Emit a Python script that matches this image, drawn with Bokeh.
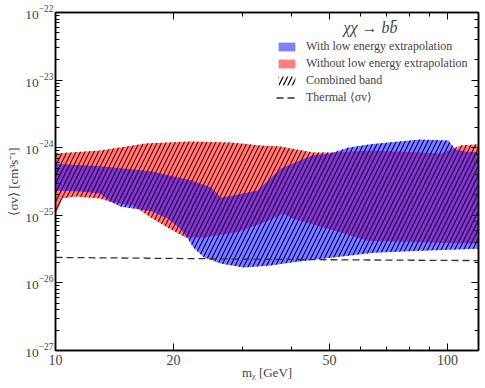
import numpy as np
from bokeh.plotting import figure
from bokeh.models import (FixedTicker, PrintfTickFormatter, LogAxis, Legend,
                          LegendItem, Label, LogTicker, CustomJSTickFormatter)
from bokeh.embed import file_html
from bokeh.resources import INLINE

# ---- data ----
red_up_m = [10, 13.0, 17.0, 22.1, 28.0, 33.3, 37.5, 45.5, 51.8, 63.6, 85.3, 96.0, 103.6, 107.9, 120]
red_up_v = [8.2e-25, 9.1e-25, 1.15e-24, 1.24e-24, 1.19e-24, 1.08e-24, 1.04e-24, 8.5e-25, 8.5e-25,
            9.1e-25, 8.5e-25, 8.2e-25, 9.7e-25, 1.08e-24, 1.12e-24]
red_lo_m = [10, 10.4, 11.25, 13.0, 13.8, 14.65, 15.8, 17.5, 19.3, 21.5, 23.9, 29.1, 33.9, 38.2,
            40.2, 53.3, 62.5, 85.3, 120]
red_lo_v = [9.9e-26, 1.77e-25, 1.9e-25, 1.77e-25, 1.58e-25, 1.5e-25, 1.4e-25, 9.3e-26, 6.6e-26,
            4.7e-26, 4.7e-26, 5.6e-26, 7.8e-26, 1.06e-25, 9.0e-26, 5.6e-26, 4.2e-26, 4.0e-26, 3.8e-26]

blue_up_m = [10, 13.0, 17.5, 22.1, 24.9, 26.4, 28.5, 32.8, 37.5, 42.2, 45.5, 50.3, 55.6, 63.6,
             85.3, 100.6, 104.8, 111.2, 120]
blue_up_v = [5.8e-25, 5.3e-25, 4.5e-25, 3.3e-25, 2.6e-25, 1.83e-25, 1.97e-25, 2.33e-25, 4.9e-25,
             6.5e-25, 7.7e-25, 8.2e-25, 1.0e-24, 1.12e-24, 1.32e-24, 1.28e-24, 9.4e-25, 8.8e-25, 8.5e-25]
blue_lo_m = [10, 11.6, 13.0, 13.8, 14.65, 15.8, 17.5, 19.3, 20.8, 21.7, 22.5, 23.9, 26.4, 30.2,
             35.4, 39.8, 44.0, 64.8, 85.3, 120]
blue_lo_v = [2.33e-25, 2.25e-25, 2.1e-25, 1.6e-25, 1.35e-25, 1.26e-25, 1.16e-25, 9.0e-26, 6.4e-26,
             4.6e-26, 3.3e-26, 2.4e-26, 1.94e-26, 1.69e-26, 1.81e-26, 2.0e-26, 2.14e-26, 2.8e-26,
             3.0e-26, 3.2e-26]

thermal_m = [10, 20, 50, 100, 120]
thermal_v = [2.38e-26, 2.3e-26, 2.2e-26, 2.15e-26, 2.14e-26]

x_ticks = [10, 20, 50, 100]
x_minor = [30, 40, 60, 70, 80, 90]

legend_labels = ["With low energy extrapolation", "Without low energy extrapolation",
                 "Combined band", "Thermal \u27e8\u03c3v\u27e9"]
legend_title = "\u03c7\u03c7 \u2192 bb\u0304"

# ---- build band outlines ----
red_x = list(red_up_m) + list(red_lo_m[::-1])
red_y = list(red_up_v) + list(red_lo_v[::-1])
blue_x = list(blue_up_m) + list(blue_lo_m[::-1])
blue_y = list(blue_up_v) + list(blue_lo_v[::-1])

SERIF = "Liberation Serif"

p = figure(width=485, height=385, x_axis_type="log", y_axis_type="log",
           x_range=(10, 120), y_range=(1e-27, 1e-22),
           output_backend="svg", toolbar_location=None,
           min_border_left=55, min_border_right=7, min_border_top=12, min_border_bottom=35)
p.grid.visible = False
p.outline_line_color = "black"
p.outline_line_width = 1.5
p.background_fill_color = "white"

hatch_kw = dict(fill_alpha=0, line_color=None, hatch_pattern="/", hatch_color="black",
                hatch_alpha=1.0, hatch_scale=9, hatch_weight=1.2)
hatch_r = p.patch(red_x, red_y, **hatch_kw)
hatch_b = p.patch(blue_x, blue_y, **hatch_kw)
red = p.patch(red_x, red_y, fill_color="#ff0000", fill_alpha=0.5, line_color=None)
blue = p.patch(blue_x, blue_y, fill_color="#0000ff", fill_alpha=0.5, line_color=None)
therm = p.line(thermal_m, thermal_v, line_color="#333333", line_width=1.3, line_dash="7 4")

# axes
for ax in (p.xaxis[0], p.yaxis[0]):
    ax.major_label_text_font = SERIF
    ax.major_label_text_font_size = "14px"
    ax.axis_label_text_font = SERIF
    ax.axis_label_text_font_style = "normal"
    ax.axis_label_text_font_size = "13px"
    ax.major_tick_in = 7
    ax.major_tick_out = 0
    ax.minor_tick_in = 4
    ax.minor_tick_out = 0
    ax.axis_line_width = 1.5
    ax.major_label_standoff = 4

p.yaxis.major_label_text_font_size = "13.5px"
p.yaxis.major_label_standoff = 2
p.xaxis.ticker = FixedTicker(ticks=x_ticks, minor_ticks=x_minor)
p.xaxis.formatter = PrintfTickFormatter(format="%d")
p.xaxis.axis_label = "m\u1d6a [GeV]"
p.xaxis.axis_label_standoff = -3
p.yaxis.axis_label = "\u27e8\u03c3v\u27e9 [cm\u00b3s\u207b\u00b9]"
p.yaxis.axis_label_standoff = 1

blank = CustomJSTickFormatter(code="return ''")
top = LogAxis(ticker=FixedTicker(ticks=x_ticks, minor_ticks=x_minor), formatter=blank,
              major_tick_in=7, major_tick_out=0, minor_tick_in=4, minor_tick_out=0,
              axis_line_width=1.5, major_label_standoff=0)
right = LogAxis(ticker=LogTicker(), formatter=blank, major_tick_in=7,
                major_tick_out=0, minor_tick_in=4, minor_tick_out=0, axis_line_width=1.5,
                major_label_standoff=0)
p.add_layout(top, "above")
p.add_layout(right, "right")

legend = Legend(items=[LegendItem(label=legend_labels[0], renderers=[blue]),
                       LegendItem(label=legend_labels[1], renderers=[red]),
                       LegendItem(label=legend_labels[2], renderers=[hatch_r]),
                       LegendItem(label=legend_labels[3], renderers=[therm])],
                location=(221, 245), border_line_alpha=0, background_fill_alpha=0,
                padding=0, margin=0, spacing=2, label_height=12, glyph_height=11,
                glyph_width=21, label_standoff=9, label_text_font=SERIF,
                label_text_font_size="12px")
p.add_layout(legend, "center")

p.add_layout(Label(x=63.6, y=5.9e-23, text=legend_title, text_align="center",
                   text_baseline="alphabetic", text_font=SERIF, text_font_style="italic",
                   text_font_size="16px"))

open("out.html", "w").write(file_html(p, INLINE))
